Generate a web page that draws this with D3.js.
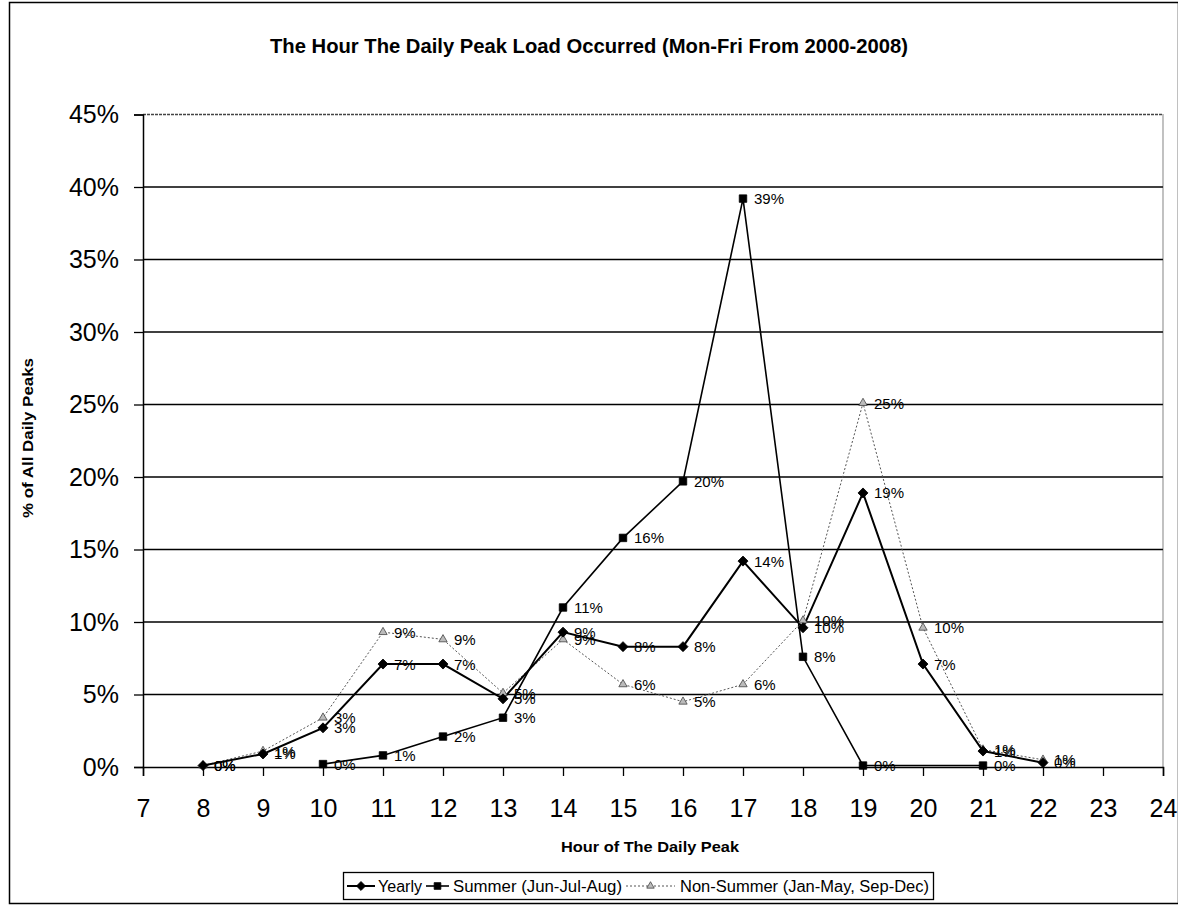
<!DOCTYPE html>
<html>
<head>
<meta charset="utf-8">
<script src="https://cdn.jsdelivr.net/npm/d3@7"></script>
<style>
  html, body { margin: 0; padding: 0; background: #fff; }
  svg { display: block; }
</style>
</head>
<body>
<svg id="chart" width="1178" height="907"></svg>
<script>
// Hour of the daily peak (x) and share of all daily peaks in percent (y)
const yearlyHours = [8, 9, 10, 11, 12, 13, 14, 15, 16, 17, 18, 19, 20, 21, 22];
const yearlyValues = [0.1, 0.9, 2.7, 7.1, 7.1, 4.7, 9.3, 8.3, 8.3, 14.2, 9.6, 18.9, 7.1, 1.1, 0.3];

const summerHours = [10, 11, 12, 13, 14, 15, 16, 17, 18, 19, 21];
const summerValues = [0.2, 0.8, 2.1, 3.4, 11.0, 15.8, 19.7, 39.2, 7.6, 0.1, 0.1];

const nonSummerHours = [8, 9, 10, 11, 12, 13, 14, 15, 16, 17, 18, 19, 20, 21, 22];
const nonSummerValues = [0.1, 1.1, 3.4, 9.3, 8.8, 5.1, 8.8, 5.7, 4.5, 5.7, 10.1, 25.1, 9.6, 1.2, 0.5];

const xTicks = d3.range(7, 25);
const yTicks = [0, 5, 10, 15, 20, 25, 30, 35, 40, 45];

const titleText = "The Hour The Daily Peak Load Occurred (Mon-Fri From 2000-2008)";
const xTitle = "Hour of The Daily Peak";
const yTitle = "% of All Daily Peaks";
const seriesNames = ["Yearly", "Summer (Jun-Jul-Aug)", "Non-Summer (Jan-May, Sep-Dec)"];

const svg = d3.select("#chart");
const W = 1178, H = 907;
const plot = { left: 143, right: 1163, top: 114.5, bottom: 767 };

const x = d3.scaleLinear().domain([7, 24]).range([plot.left, plot.right]);
const y = d3.scaleLinear().domain([0, 45]).range([plot.bottom, plot.top]);

const narrow = "'Liberation Sans Narrow', 'Arial Narrow', 'Liberation Sans', Arial, sans-serif";
const sans = "'Liberation Sans', Arial, Helvetica, sans-serif";

// Chart frame
svg.append("rect")
  .attr("x", 9.5).attr("y", 2.5)
  .attr("width", W - 9).attr("height", 901)
  .attr("fill", "#fff").attr("stroke", "#000").attr("stroke-width", 1.5);

// Title
svg.append("text")
  .attr("x", 589).attr("y", 53)
  .attr("text-anchor", "middle")
  .attr("font-family", narrow).attr("font-weight", "bold").attr("font-size", 21)
  .attr("textLength", 638).attr("lengthAdjust", "spacingAndGlyphs")
  .text(titleText);

// Horizontal gridlines (top one is the plot border, drawn lighter)
svg.append("g").selectAll("line")
  .data(yTicks.filter(d => d > 0))
  .join("line")
  .attr("x1", plot.left).attr("x2", plot.right)
  .attr("y1", d => y(d)).attr("y2", d => y(d))
  .attr("stroke", d => d === 45 ? "#444" : "#000")
  .attr("stroke-width", 1.3)
  .attr("stroke-dasharray", d => d === 45 ? "3,1" : null);

// Right edge of plot area (dotted)
svg.append("line")
  .attr("x1", plot.right).attr("x2", plot.right)
  .attr("y1", plot.top).attr("y2", plot.bottom)
  .attr("stroke", "#333").attr("stroke-width", 1.2).attr("stroke-dasharray", "1,1");

// Y axis
const yAxis = d3.axisLeft(y).tickValues(yTicks).tickSize(9).tickPadding(15)
  .tickFormat(d => d + "%");
const gy = svg.append("g").attr("transform", `translate(${plot.left},0)`).call(yAxis);
gy.select(".domain").attr("stroke-width", 1.5);
gy.selectAll(".tick line").attr("stroke-width", 1.3);
gy.selectAll("text").attr("font-family", sans).attr("font-size", 25).attr("fill", "#000");

// X axis
const xAxis = d3.axisBottom(x).tickValues(xTicks).tickSize(9).tickPadding(23)
  .tickFormat(d3.format("d"));
const gx = svg.append("g").attr("transform", `translate(0,${plot.bottom})`).call(xAxis);
gx.select(".domain").attr("stroke-width", 1.5);
gx.selectAll(".tick line").attr("stroke-width", 1.3);
gx.selectAll("text").attr("font-family", sans).attr("font-size", 25).attr("fill", "#000");

// Axis titles
svg.append("text")
  .attr("x", 650).attr("y", 852)
  .attr("text-anchor", "middle")
  .attr("font-family", narrow).attr("font-weight", "bold").attr("font-size", 15)
  .attr("textLength", 178).attr("lengthAdjust", "spacingAndGlyphs")
  .text(xTitle);

svg.append("text")
  .attr("transform", "translate(33,438) rotate(-90)")
  .attr("text-anchor", "middle")
  .attr("font-family", narrow).attr("font-weight", "bold").attr("font-size", 15)
  .attr("textLength", 160).attr("lengthAdjust", "spacingAndGlyphs")
  .text(yTitle);

// Series definitions
const series = [
  { name: seriesNames[0], hours: yearlyHours, values: yearlyValues,
    stroke: "#000", width: 2, dash: null, symbol: d3.symbolSquare, size: 50, rotate: 45,
    fill: "#000", mstroke: "#000" },
  { name: seriesNames[1], hours: summerHours, values: summerValues,
    stroke: "#000", width: 1.6, dash: null, symbol: d3.symbolSquare, size: 56, rotate: 0,
    fill: "#000", mstroke: "#000" },
  { name: seriesNames[2], hours: nonSummerHours, values: nonSummerValues,
    stroke: "#555", width: 1, dash: "2,2", symbol: d3.symbolTriangle, size: 30, rotate: 0,
    fill: "#bbb", mstroke: "#444" }
];

const line = d3.line().x(d => x(d[0])).y(d => y(d[1]));

// Draw lines (non-summer underneath)
const drawOrder = [2, 1, 0];
drawOrder.forEach(i => {
  const s = series[i];
  const pts = s.hours.map((h, k) => [h, s.values[k]]);
  svg.append("path")
    .datum(pts)
    .attr("d", line)
    .attr("fill", "none")
    .attr("stroke", s.stroke)
    .attr("stroke-width", s.width)
    .attr("stroke-dasharray", s.dash);
});

// Markers
drawOrder.forEach(i => {
  const s = series[i];
  const pts = s.hours.map((h, k) => [h, s.values[k]]);
  svg.append("g").selectAll("path")
    .data(pts)
    .join("path")
    .attr("transform", d => `translate(${x(d[0])},${y(d[1])}) rotate(${s.rotate})`)
    .attr("d", d3.symbol().type(s.symbol).size(s.size))
    .attr("fill", s.fill)
    .attr("stroke", s.mstroke)
    .attr("stroke-width", 0.8);
});

// Value labels to the right of each point
drawOrder.forEach(i => {
  const s = series[i];
  const pts = s.hours.map((h, k) => [h, s.values[k]]);
  svg.append("g").selectAll("text")
    .data(pts)
    .join("text")
    .attr("x", d => x(d[0]) + 11)
    .attr("y", d => y(d[1]) + 5.5)
    .attr("font-family", sans).attr("font-size", 15)
    .attr("fill", "#000")
    .text(d => Math.round(d[1]) + "%");
});

// Legend
const legend = svg.append("g");
legend.append("rect")
  .attr("x", 343.5).attr("y", 872.5).attr("width", 590).attr("height", 27)
  .attr("fill", "#fff").attr("stroke", "#000").attr("stroke-width", 1.3);

const legendItems = [
  { s: series[0], x0: 347, x1: 375, tx: 378, tw: 44 },
  { s: series[1], x0: 426, x1: 449, tx: 453, tw: 169 },
  { s: series[2], x0: 626, x1: 675, tx: 680, tw: 249 }
];
legendItems.forEach(item => {
  const cy = 886;
  legend.append("line")
    .attr("x1", item.x0).attr("x2", item.x1).attr("y1", cy).attr("y2", cy)
    .attr("stroke", item.s.stroke).attr("stroke-width", item.s.width)
    .attr("stroke-dasharray", item.s.dash);
  legend.append("path")
    .attr("transform", `translate(${(item.x0 + item.x1) / 2},${cy}) rotate(${item.s.rotate})`)
    .attr("d", d3.symbol().type(item.s.symbol).size(item.s.size * 0.8))
    .attr("fill", item.s.fill).attr("stroke", item.s.mstroke).attr("stroke-width", 0.8);
  legend.append("text")
    .attr("x", item.tx).attr("y", cy + 5.5)
    .attr("font-family", sans).attr("font-size", 16)
    .attr("textLength", item.tw).attr("lengthAdjust", "spacingAndGlyphs")
    .text(item.s.name);
});
</script>
</body>
</html>
